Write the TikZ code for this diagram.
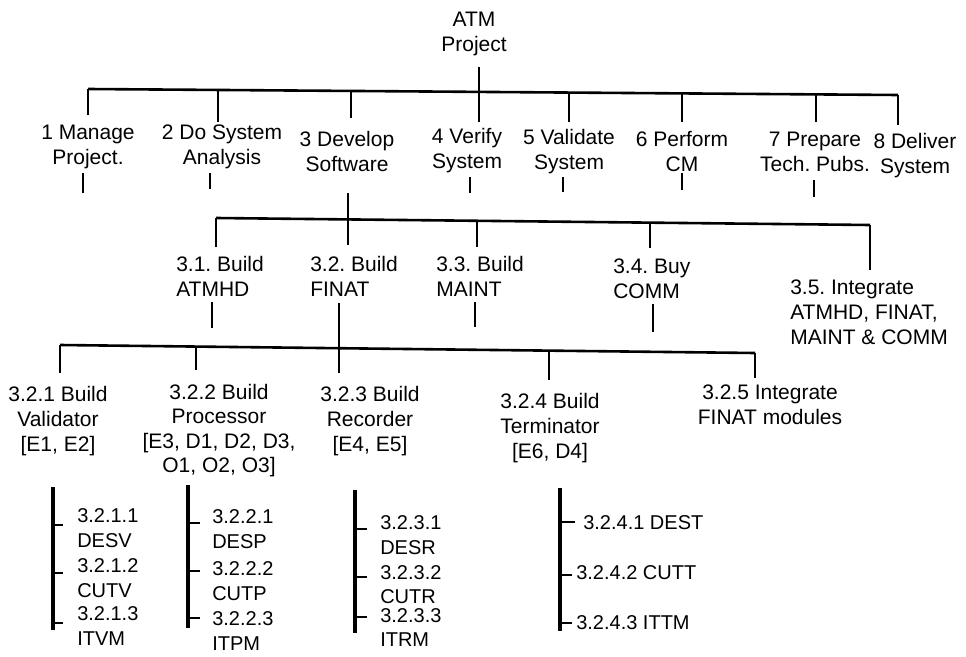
\documentclass[tikz,border=0pt]{standalone}
\usepackage{fontspec}
\setmainfont{Liberation Sans}
\begin{document}
\frenchspacing
\begin{tikzpicture}[x=0.75pt,y=-0.75pt,
  lbl/.style={font=\fontsize{15.75}{18.4}\selectfont, inner sep=0pt, align=center, anchor=base},
  lbll/.style={font=\fontsize{15.75}{18.4}\selectfont, inner sep=0pt, align=left, anchor=base west},
  leaf/.style={font=\fontsize{15}{18.75}\selectfont, inner sep=0pt, align=left, anchor=base west},
  leaftight/.style={font=\fontsize{15}{18}\selectfont, inner sep=0pt, align=left, anchor=base west},
  bar/.style={line width=1.95pt},
  stub/.style={line width=2.2pt},
  leafbar/.style={line width=2.5pt},
  tick/.style={line width=0.8pt}]
\useasboundingbox (0,0) rectangle (966,656);

% ---------- root ----------
\node[lbl] (root) at (474,51.5) {ATM\\Project};
\coordinate (r0) at (479,67);
\coordinate (r1) at (479,122);
\draw[stub] (r0) -- (r1);

% ---------- level 1 bar ----------
\coordinate (b1l) at (88,89);
\coordinate (b1r) at (898,95);
\draw[bar] (b1l) -- (b1r);
\coordinate (d1b) at (88,115);
\coordinate (d2t) at (218,90);   \coordinate (d2b) at (218,122);
\coordinate (d3t) at (351,90.9); \coordinate (d3b) at (351,118);
\coordinate (d5t) at (569,92.6); \coordinate (d5b) at (569,122);
\coordinate (d6t) at (682,93.4); \coordinate (d6b) at (682,122);
\coordinate (d7t) at (816,94.4); \coordinate (d7b) at (816,122);
\coordinate (d8b) at (898,125);
\draw[stub] (b1l) -- (d1b);
\draw[stub] (d2t) -- (d2b);
\draw[stub] (d3t) -- (d3b);
\draw[stub] (d5t) -- (d5b);
\draw[stub] (d6t) -- (d6b);
\draw[stub] (d7t) -- (d7b);
\draw[stub] (b1r) -- (d8b);

% ---------- level 1 nodes (anchor = baseline of last line) ----------
\node[lbl] (n1) at (88,164.5) {1 Manage\\Project.};
\node[lbl] (n2) at (222,164.5) {2 Do System\\Analysis};
\node[lbl] (n3) at (347,171.5) {3 Develop\\Software};
\node[lbl] (n4) at (467,168.5) {4 Verify\\System};
\node[lbl] (n5) at (569,169.5) {5 Validate\\System};
\node[lbl] (n6) at (682,171.5) {6 Perform\\CM};
\node[lbl] (n7) at (815,171.5) {7 Prepare\\Tech. Pubs.};
\node[lbl] (n8) at (915,173.5) {8 Deliver\\System};

% stubs under level 1
\coordinate (s1t) at (83,173);  \coordinate (s1b) at (83,193);
\coordinate (s2t) at (210,173); \coordinate (s2b) at (210,189);
\coordinate (s4t) at (470,177); \coordinate (s4b) at (470,193);
\coordinate (s5t) at (563,177); \coordinate (s5b) at (563,192);
\coordinate (s6t) at (682,173); \coordinate (s6b) at (682,190);
\coordinate (s7t) at (814,180); \coordinate (s7b) at (814,197);
\draw[stub] (s1t) -- (s1b);
\draw[stub] (s2t) -- (s2b);
\draw[stub] (s4t) -- (s4b);
\draw[stub] (s5t) -- (s5b);
\draw[stub] (s6t) -- (s6b);
\draw[stub] (s7t) -- (s7b);
\coordinate (s3t) at (348,193); \coordinate (s3b) at (348,245);
\draw[stub] (s3t) -- (s3b);

% ---------- level 2 bar ----------
\coordinate (b2l) at (216,218);
\coordinate (b2r) at (870,225);
\draw[bar] (b2l) -- (b2r);
\coordinate (e1b) at (216,247);
\coordinate (e3t) at (477,220.8); \coordinate (e3b) at (477,247);
\coordinate (e4t) at (650,222.6); \coordinate (e4b) at (650,248);
\coordinate (e5b) at (870,270);
\draw[stub] (b2l) -- (e1b);
\draw[stub] (e3t) -- (e3b);
\draw[stub] (e4t) -- (e4b);
\draw[stub] (b2r) -- (e5b);

% ---------- level 2 nodes ----------
\node[lbll] (n31) at (176,296.5) {3.1. Build\\ATMHD};
\node[lbll] (n32) at (310,296.5) {3.2. Build\\FINAT};
\node[lbll] (n33) at (436,296.5) {3.3. Build\\MAINT};
\node[lbll] (n34) at (613,298.5) {3.4. Buy\\COMM};
\node[lbll] (n35) at (790,344) {3.5. Integrate\\ATMHD, FINAT,\\MAINT \& COMM};

% stubs under level 2
\coordinate (t1t) at (212,302); \coordinate (t1b) at (212,328);
\coordinate (t3t) at (475,302); \coordinate (t3b) at (475,327);
\coordinate (t4t) at (653,304); \coordinate (t4b) at (653,332);
\draw[stub] (t1t) -- (t1b);
\draw[stub] (t3t) -- (t3b);
\draw[stub] (t4t) -- (t4b);
\coordinate (t2t) at (339,303); \coordinate (t2b) at (339,373);
\draw[stub] (t2t) -- (t2b);

% ---------- level 3 bar ----------
\coordinate (b3l) at (60,345);
\coordinate (b3r) at (755,353);
\draw[bar] (b3l) -- (b3r);
\coordinate (f1b) at (60,373);
\coordinate (f2t) at (196,346.6); \coordinate (f2b) at (196,370);
\coordinate (f4t) at (549,350.6); \coordinate (f4b) at (549,380);
\coordinate (f5b) at (755,378);
\draw[stub] (b3l) -- (f1b);
\draw[stub] (f2t) -- (f2b);
\draw[stub] (f4t) -- (f4b);
\draw[stub] (b3r) -- (f5b);

% ---------- level 3 nodes ----------
\node[lbl] (n321) at (58,451) {3.2.1 Build\\Validator\\{[E1, E2]}};
\node[lbl] (n322) at (219,472.6) {3.2.2 Build\\Processor\\{[E3, D1, D2, D3,}\\O1, O2, O3]};
\node[lbl] (n323) at (370,451) {3.2.3 Build\\Recorder\\{[E4, E5]}};
\node[lbl] (n324) at (550,458) {3.2.4 Build\\Terminator\\{[E6, D4]}};
\node[lbl] (n325) at (770,424.5) {3.2.5 Integrate\\FINAT modules};

% ---------- leaves 3.2.1 ----------
\coordinate (g1t) at (53,487); \coordinate (g1b) at (53,630);
\draw[leafbar] (g1t) -- (g1b);
\coordinate (g1a) at (53,525); \coordinate (g1ae) at (63,525);
\coordinate (g1c) at (53,573); \coordinate (g1ce) at (63,573);
\coordinate (g1d) at (53,623); \coordinate (g1de) at (63,623);
\draw[tick] (g1a) -- (g1ae);
\draw[tick] (g1c) -- (g1ce);
\draw[tick] (g1d) -- (g1de);
\node[leaf] (l3211) at (77,547) {3.2.1.1\\DESV};
\node[leaf] (l3212) at (77,597) {3.2.1.2\\CUTV};
\node[leaf] (l3213) at (77,645) {3.2.1.3\\ITVM};

% ---------- leaves 3.2.2 ----------
\coordinate (g2t) at (188,485); \coordinate (g2b) at (188,628);
\draw[leafbar] (g2t) -- (g2b);
\coordinate (g2a) at (188,523); \coordinate (g2ae) at (200,523);
\coordinate (g2c) at (188,571); \coordinate (g2ce) at (200,571);
\coordinate (g2d) at (188,618); \coordinate (g2de) at (200,618);
\draw[tick] (g2a) -- (g2ae);
\draw[tick] (g2c) -- (g2ce);
\draw[tick] (g2d) -- (g2de);
\node[leaf] (l3221) at (212,548) {3.2.2.1\\DESP};
\node[leaf] (l3222) at (212,600) {3.2.2.2\\CUTP};
\node[leaf] (l3223) at (212,650) {3.2.2.3\\ITPM};

% ---------- leaves 3.2.3 ----------
\coordinate (g3t) at (355,490); \coordinate (g3b) at (355,633);
\draw[leafbar] (g3t) -- (g3b);
\coordinate (g3a) at (355,529); \coordinate (g3ae) at (367,529);
\coordinate (g3c) at (355,577); \coordinate (g3ce) at (367,577);
\coordinate (g3d) at (355,617); \coordinate (g3de) at (367,617);
\draw[tick] (g3a) -- (g3ae);
\draw[tick] (g3c) -- (g3ce);
\draw[tick] (g3d) -- (g3de);
\node[leaf] (l3231) at (380,554) {3.2.3.1\\DESR};
\node[leaftight] (l3232) at (380,603) {3.2.3.2\\CUTR};
\node[leaftight] (l3233) at (380,646) {3.2.3.3\\ITRM};

% ---------- leaves 3.2.4 ----------
\coordinate (g4t) at (560,488); \coordinate (g4b) at (560,631);
\draw[leafbar] (g4t) -- (g4b);
\coordinate (g4a) at (560,522); \coordinate (g4ae) at (575,522);
\coordinate (g4c) at (560,575); \coordinate (g4ce) at (572,575);
\coordinate (g4d) at (560,623); \coordinate (g4de) at (572,623);
\draw[tick] (g4a) -- (g4ae);
\draw[tick] (g4c) -- (g4ce);
\draw[tick] (g4d) -- (g4de);
\node[leaf] (l3241) at (583,529) {3.2.4.1 DEST};
\node[leaf] (l3242) at (576,579) {3.2.4.2 CUTT};
\node[leaf] (l3243) at (576,629) {3.2.4.3 ITTM};
\end{tikzpicture}
\end{document}
